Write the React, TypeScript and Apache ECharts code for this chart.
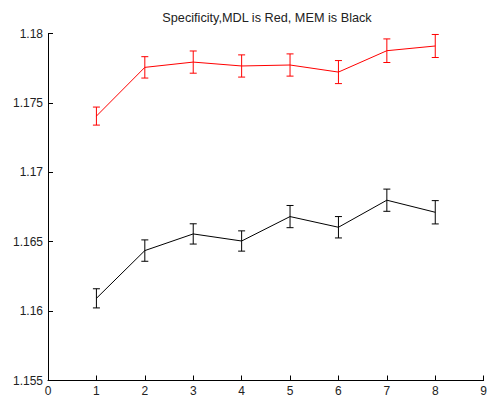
import React, { useEffect, useRef } from "react";
import * as echarts from "echarts";

const xValues = [1, 2, 3, 4, 5, 6, 7, 8];
const mdlMeans = [1.17405, 1.17756, 1.17794, 1.17766, 1.17773, 1.17722, 1.17876, 1.1791];
const mdlErrors = [0.00065, 0.00077, 0.0008, 0.0008, 0.0008, 0.00083, 0.00085, 0.00083];
const memMeans = [1.16092, 1.16436, 1.16556, 1.16505, 1.16681, 1.16604, 1.16799, 1.16712];
const memErrors = [0.00069, 0.00077, 0.00073, 0.00073, 0.0008, 0.00077, 0.0008, 0.00084];
const titleText = "Specificity,MDL is Red, MEM is Black";

const FONT = "'Liberation Sans', Arial, sans-serif";

function errorSeries(means: number[], errs: number[], color: string) {
  return {
    type: "custom",
    silent: true,
    z: 3,
    data: xValues.map((x, i) => [x, means[i] - errs[i], means[i] + errs[i]]),
    renderItem: (params: any, api: any) => {
      const x = api.value(0);
      const lo = api.coord([x, api.value(1)]);
      const hi = api.coord([x, api.value(2)]);
      const w = 3.5;
      const style = { stroke: color, lineWidth: 1 };
      return {
        type: "group",
        children: [
          { type: "line", shape: { x1: lo[0], y1: lo[1], x2: hi[0], y2: hi[1] }, style },
          { type: "line", shape: { x1: lo[0] - w, y1: lo[1], x2: lo[0] + w, y2: lo[1] }, style },
          { type: "line", shape: { x1: hi[0] - w, y1: hi[1], x2: hi[0] + w, y2: hi[1] }, style },
        ],
      };
    },
  };
}

export default function App() {
  const ref = useRef<HTMLDivElement>(null);
  useEffect(() => {
    if (!ref.current) return;
    const chart = echarts.init(ref.current, null, { renderer: "svg" });
    chart.setOption({
      animation: false,
      backgroundColor: "#ffffff",
      graphic: [
        {
          type: "text",
          x: 267,
          y: 17.5,
          style: {
            text: titleText,
            textAlign: "center",
            textVerticalAlign: "middle",
            fontFamily: FONT,
            fontSize: 12.7,
            fill: "#222",
          },
        },
      ],
      grid: { left: 48, right: 2.5, top: 33.5, bottom: 18.5 },
      xAxis: {
        type: "value",
        min: 0,
        max: 9,
        interval: 1,
        axisLine: { show: true, lineStyle: { color: "#000", width: 1 } },
        axisTick: { show: true, inside: true, length: 5, lineStyle: { color: "#000" } },
        axisLabel: { fontFamily: FONT, fontSize: 12, color: "#222", margin: 4 },
        splitLine: { show: false },
      },
      yAxis: {
        type: "value",
        min: 1.155,
        max: 1.18,
        interval: 0.005,
        axisLine: { show: true, lineStyle: { color: "#000", width: 1 } },
        axisTick: { show: true, inside: true, length: 5, lineStyle: { color: "#000" } },
        axisLabel: {
          fontFamily: FONT,
          fontSize: 12,
          color: "#222",
          margin: 5,
          formatter: (v: number) => String(parseFloat(v.toFixed(3))),
        },
        splitLine: { show: false },
      },
      series: [
        {
          type: "line",
          data: xValues.map((x, i) => [x, mdlMeans[i]]),
          symbol: "none",
          lineStyle: { color: "#ff0000", width: 1 },
          z: 2,
        },
        {
          type: "line",
          data: xValues.map((x, i) => [x, memMeans[i]]),
          symbol: "none",
          lineStyle: { color: "#000000", width: 1 },
          z: 2,
        },
        errorSeries(mdlMeans, mdlErrors, "#ff0000"),
        errorSeries(memMeans, memErrors, "#000000"),
      ],
    });
    return () => chart.dispose();
  }, []);
  return (
    <div
      ref={ref}
      style={{ position: "absolute", left: 0, top: 0, width: 490, height: 399, background: "#fff" }}
    />
  );
}
